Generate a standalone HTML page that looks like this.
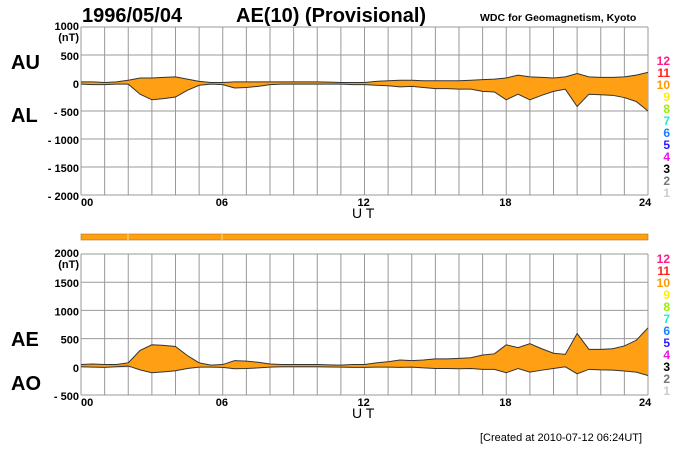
<!DOCTYPE html>
<html><head><meta charset="utf-8"><style>
body{margin:0;background:#fff;width:700px;height:450px;overflow:hidden}
svg text{font-family:"Liberation Sans",Arial,sans-serif;font-weight:bold}
</style></head><body>
<svg id="chart" width="700" height="450" xmlns="http://www.w3.org/2000/svg">
<text x="82" y="22" font-size="20">1996/05/04</text>
<text x="236" y="22" font-size="20">AE(10) (Provisional)</text>
<text x="480" y="21" font-size="10.5">WDC for Geomagnetism, Kyoto</text>
<text x="11" y="69" font-size="20">AU</text>
<text x="11" y="122" font-size="20">AL</text>
<text x="11" y="346" font-size="20">AE</text>
<text x="11" y="390" font-size="20">AO</text>
<text x="480" y="441" font-size="11" style="font-weight:normal">[Created at 2010-07-12 06:24UT]</text>
<rect x="81" y="234" width="567" height="6" fill="#ffa010" stroke="#b07020" stroke-width="0.6"/>
<line x1="128" y1="234" x2="128" y2="240" stroke="#ffe080"/>
<line x1="222" y1="234" x2="222" y2="240" stroke="#ffe080"/>
<g id="top"></g>
<g id="bot"></g>
</svg>
<script>
const hours=[0,0.5,1,1.5,2,2.5,3,3.5,4,4.5,5,5.5,6,6.5,7,7.5,8,8.5,9,9.5,10,10.5,11,11.5,12,12.5,13,13.5,14,14.5,15,15.5,16,16.5,17,17.5,18,18.5,19,19.5,20,20.5,21,21.5,22,22.5,23,23.5,24];
const auValues=[20,20,10,20,50,90,90,100,110,70,30,10,10,20,20,20,20,20,20,20,20,15,10,10,10,30,40,50,50,40,40,40,40,50,60,70,90,140,110,100,90,110,170,110,100,100,110,140,190];
const alValues=[-20,-30,-30,-20,-20,-200,-300,-280,-250,-130,-40,-20,-30,-90,-80,-60,-30,-20,-20,-20,-20,-20,-20,-30,-30,-40,-50,-70,-60,-80,-100,-100,-110,-110,-150,-160,-300,-200,-300,-220,-150,-110,-420,-200,-210,-220,-260,-330,-500];
const topTicks=[1000,500,0,-500,-1000,-1500,-2000];
const botTicks=[2000,1500,1000,500,0,-500];
const hourTicks=["00","06","12","18","24"];
const legendNums=[12,11,10,9,8,7,6,5,4,3,2,1];
const legendColors=["#ff1a8c","#ff2020","#ff9900","#ffee00","#99ee00","#22eecc","#1a7fff","#2a1aff","#ee11ee","#000","#777","#ccc"];
const NS="http://www.w3.org/2000/svg";
const X0=81,X1=648;
const xs=h=>X0+(X1-X0)*h/24;
function mk(p,t,a){const e=document.createElementNS(NS,t);for(const k in a)e.setAttribute(k,a[k]);p.appendChild(e);return e;}
function panel(g,yTop,yBot,vmax,vmin,ticks,upper,lower,legTop){
  const ys=v=>yTop+(vmax-v)*(yBot-yTop)/(vmax-vmin);
  for(let h=0;h<=24;h++){const l=mk(g,'line',{x1:xs(h),x2:xs(h),y1:yTop,y2:yBot,stroke:'#999','stroke-width':1});
    }
  ticks.forEach((t,i)=>{const l=mk(g,'line',{x1:X0,x2:X1,y1:ys(t),y2:ys(t),stroke:'#999','stroke-width':1});
    
    const tx=mk(g,'text',{x:X0-2,y:ys(t)+(i==0?3:5),'font-size':11,'text-anchor':'end'});
    tx.textContent=(t<0?'- '+(-t):t);
    
    if(i==0){const u=mk(g,'text',{x:X0-2,y:ys(t)+14,'font-size':11,'text-anchor':'end'});u.textContent='(nT)';
      }
  });
  let d='M'+hours.map((h,i)=>xs(h)+','+ys(upper[i])).join('L');
  for(let i=hours.length-1;i>=0;i--)d+='L'+xs(hours[i])+','+ys(lower[i]);d+='Z';
  const a=mk(g,'path',{d:d,fill:'#ffa014',stroke:'none'});
  
  [upper,lower].forEach((s,k)=>{const p=mk(g,'path',{d:'M'+hours.map((h,i)=>xs(h)+','+ys(s[i])).join('L'),fill:'none',stroke:'#333','stroke-width':1});
    });
  hourTicks.forEach((t,i)=>{const tx=mk(g,'text',{x:xs(i*6)+(i==0?0:(i==4?-9:-7)),y:yBot+11,'font-size':11});tx.textContent=t;
    });
  const ut=mk(g,'text',{x:352,y:yBot+23,'font-size':14,style:'font-weight:normal'});ut.textContent='U T';
  
  legendNums.forEach((n,i)=>{const tx=mk(g,'text',{x:670,y:legTop+i*12,'font-size':12,'text-anchor':'end',fill:legendColors[i]});tx.textContent=n;
    });
}
const aeValues=auValues.map((v,i)=>v-alValues[i]);
const aoValues=auValues.map((v,i)=>(v+alValues[i])/2);
panel(document.getElementById('top'),27,195,1000,-2000,topTicks,auValues,alValues,65);
panel(document.getElementById('bot'),254,395,2000,-500,botTicks,aeValues,aoValues,263);
</script>
</body></html>
